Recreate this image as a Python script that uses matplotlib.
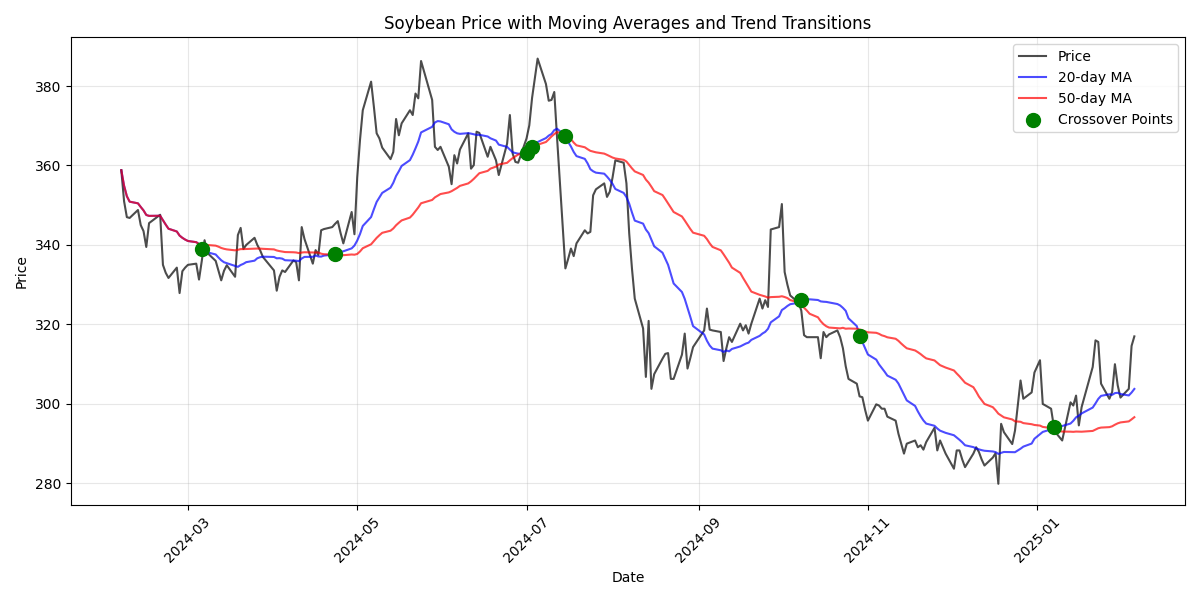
import numpy as np
import pandas as pd
import matplotlib
matplotlib.use("Agg")
import matplotlib.pyplot as plt

# trading-day closes, one row per week
price = [
    358.8, 351.0, 347.0, 346.8,
    348.8, 345.0, 343.5, 339.5, 345.5,
    347.6, 335.0, 333.0, 331.7,
    334.3, 327.9, 333.4, 334.3, 335.0,
    335.3, 331.3, 336.0, 341.2, 338.0,
    336.0, 333.5, 331.1, 333.5, 334.9,
    332.0, 342.5, 344.3, 339.0, 340.0,
    341.8, 340.0, 338.7, 337.0,
    333.6, 328.5, 332.0, 333.6, 333.2,
    336.1, 335.7, 331.1, 344.5, 341.5,
    335.3, 338.7, 337.5, 343.7, 344.0,
    344.5, 345.3, 346.0, 343.0, 340.4,
    348.3, 342.7, 357.0, 366.4, 373.9,
    381.1, 374.8, 368.1, 366.8, 364.5,
    361.6, 363.4, 371.7, 367.6, 370.6,
    373.9, 372.7, 378.1, 376.9, 386.3,
    376.5, 364.7, 363.9, 364.7,
    359.7, 355.3, 362.6, 360.5, 364.0,
    368.1, 359.2, 360.1, 368.5, 368.2,
    362.2, 364.7, 361.3, 357.6,
    365.5, 372.7, 363.0, 360.9, 360.7,
    366.8, 370.1, 377.0, 386.9,
    380.5, 376.3, 376.5, 378.5, 367.0,
    334.1, 336.5, 339.1, 337.2, 340.4,
    343.7, 342.9, 343.3, 352.5, 354.0,
    355.5, 352.1, 353.4, 357.0, 361.3,
    360.7, 355.5, 342.9, 334.0, 326.5,
    319.0, 306.8, 320.9, 303.8, 307.5,
    311.4, 312.6, 312.8, 306.3, 306.3,
    312.4, 317.7, 308.9, 311.5, 314.3,
    318.5, 324.0, 318.7, 318.5,
    318.1, 310.8, 314.0, 316.8, 315.6,
    320.2, 318.5, 319.8, 317.7, 320.2,
    326.5, 324.0, 326.1, 324.4, 343.9,
    344.5, 350.3, 333.2, 330.0, 327.3,
    325.5, 323.5, 317.3, 316.8, 316.8,
    316.8, 311.5, 318.1, 316.8, 317.5,
    318.5, 316.8, 314.0, 309.5, 306.3,
    305.1, 301.9, 301.7, 298.5, 295.8,
    299.9, 299.6, 298.8, 298.8, 296.8,
    295.8, 292.5, 290.0, 287.5, 290.0,
    290.8, 289.1, 289.6, 288.5, 290.4,
    294.0, 288.3, 290.8, 287.5,
    283.7, 288.3, 288.3, 286.0, 284.1,
    287.5, 289.1, 287.9, 286.0, 284.5,
    286.5, 287.6, 279.9, 295.0, 292.9,
    289.9, 293.3, 305.9, 301.3,
    302.9, 307.9, 311.0, 300.0,
    298.8, 294.3, 292.5, 290.8,
    300.4, 299.6, 302.1, 294.6, 299.2,
    309.3, 316.0, 315.6, 305.1,
    301.3, 303.0, 310.0, 304.7, 301.6,
    303.8, 314.6, 317.0,
]

holidays = ["2024-02-19", "2024-03-29", "2024-05-27", "2024-06-19", "2024-07-04",
            "2024-09-02", "2024-11-28", "2024-12-25", "2025-01-01", "2025-01-09",
            "2025-01-20"]

dates = pd.bdate_range("2024-02-06", periods=len(price), freq="C", holidays=holidays)
df = pd.DataFrame({"Price": price}, index=dates)
df["MA20"] = df["Price"].rolling(20, min_periods=1).mean()
df["MA50"] = df["Price"].rolling(50, min_periods=1).mean()

# points where the short average crosses the long one
sign = np.sign(np.round(df["MA20"] - df["MA50"], 6))
cross = np.where(np.diff(sign.values) != 0)[0] + 1

plt.figure(figsize=(12, 6), dpi=100)
plt.plot(df.index, df["Price"], color="black", alpha=0.7, label="Price")
plt.plot(df.index, df["MA20"], color="blue", alpha=0.7, label="20-day MA")
plt.plot(df.index, df["MA50"], color="red", alpha=0.7, label="50-day MA")
plt.scatter(df.index[cross], df["MA20"].iloc[cross], color="green", s=100,
            zorder=5, label="Crossover Points")
plt.title("Soybean Price with Moving Averages and Trend Transitions")
plt.xlabel("Date")
plt.ylabel("Price")
plt.legend(loc="upper right")
plt.grid(True, alpha=0.3)
plt.xticks(rotation=45)
plt.tight_layout()
plt.savefig("out.png")
